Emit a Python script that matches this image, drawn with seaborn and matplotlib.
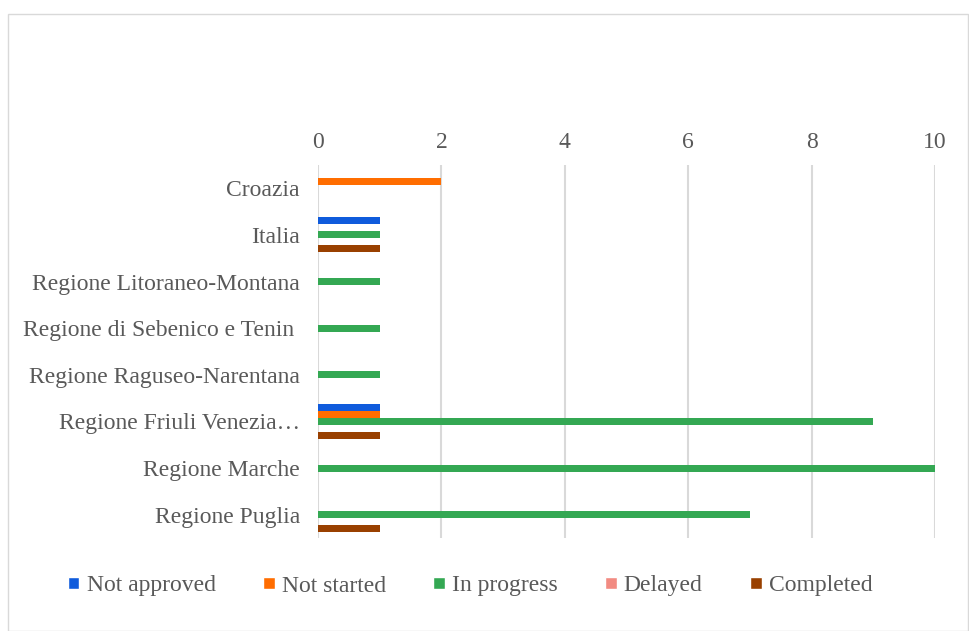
import matplotlib
matplotlib.use("Agg")
import matplotlib.pyplot as plt
from matplotlib.patches import Patch, Rectangle
import seaborn as sns
import pandas as pd

categories = ["Croazia", "Italia", "Regione Litoraneo-Montana", "Regione di Sebenico e Tenin ",
              "Regione Raguseo-Narentana", "Regione Friuli Venezia…", "Regione Marche", "Regione Puglia"]
series = ["Not approved", "Not started", "In progress", "Delayed", "Completed"]
not_approved = [0, 1, 0, 0, 0, 1, 0, 0]
not_started = [2, 0, 0, 0, 0, 1, 0, 0]
in_progress = [0, 1, 1, 1, 1, 9, 10, 7]
delayed = [0, 0, 0, 0, 0, 0, 0, 0]
completed = [0, 1, 0, 0, 0, 1, 0, 1]
x_ticks = [0, 2, 4, 6, 8, 10]

colors = ["#0F5BDC", "#FF6D00", "#34A853", "#F28B82", "#994000"]

values = [not_approved, not_started, in_progress, delayed, completed]
rows = []
for s, vals in zip(series, values):
    for c, v in zip(categories, vals):
        rows.append({"category": c, "status": s, "value": v})
df = pd.DataFrame(rows)

sns.set_theme(style="white")
plt.rcParams["font.family"] = ["Liberation Serif", "DejaVu Serif"]
txt = "#595959"
fs = 17

fig = plt.figure(figsize=(9.7, 6.31), dpi=100)
ax = fig.add_axes([318/970, 1-538/631, (935-318)/970, (538-165)/631])

sns.barplot(data=df, x="value", y="category", hue="status", order=categories,
            hue_order=series, palette=colors, orient="h", width=0.75,
            legend=False, ax=ax, saturation=1, linewidth=0)

ax.set_xlim(0, 10)
ax.set_ylim(len(categories) - 0.5, -0.5)
ax.set_xticks(x_ticks)
ax.xaxis.tick_top()
ax.tick_params(axis="x", length=0, pad=9, labelsize=fs, labelcolor=txt)
ax.tick_params(axis="y", length=0, pad=13, labelsize=fs, labelcolor=txt)
ax.set_xlabel("")
ax.set_ylabel("")
for sp in ax.spines.values():
    sp.set_visible(False)
ax.grid(axis="x", color="#D9D9D9", linewidth=1.5)
ax.set_axisbelow(True)

handles = [Patch(facecolor=c, label=s) for c, s in zip(colors, series)]
fig.legend(handles=handles, loc="center", bbox_to_anchor=(470/970, 1-586/631), ncol=5,
           frameon=False, fontsize=fs, labelcolor=txt, handlelength=0.5, handleheight=0.35,
           handletextpad=0.3, columnspacing=2.0, borderpad=0, borderaxespad=0)

fig.patches.append(Rectangle((8/970, 0), 960/970, 1-14/631, transform=fig.transFigure,
                             fill=False, edgecolor="#D9D9D9", linewidth=1))

fig.savefig("out.png", dpi=100, facecolor="white")
